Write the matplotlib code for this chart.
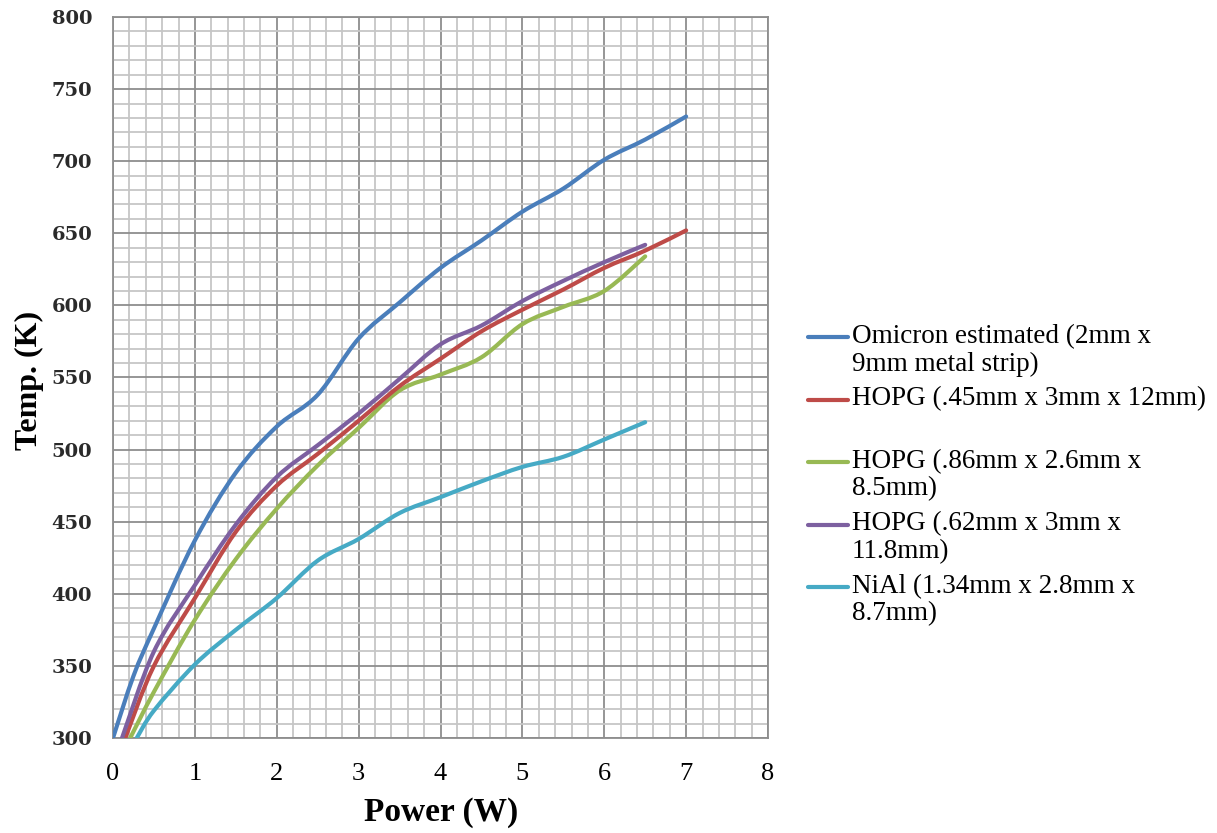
import matplotlib
matplotlib.use("Agg")
import matplotlib.pyplot as plt
from matplotlib.lines import Line2D
from matplotlib.path import Path
from matplotlib.patches import PathPatch
from matplotlib.ticker import MultipleLocator

# ---- data ----
omicron_x = [0, 0.25, 0.5, 1, 1.5, 2, 2.5, 3, 3.5, 4, 4.5, 5, 5.5, 6, 6.5, 7]
omicron_y = [300, 343, 376, 437, 484, 516, 538, 577, 602, 626, 645, 665, 681, 701, 715, 731]

hopg45_x = [0.15, 0.5, 1, 1.5, 2, 2.5, 3, 3.5, 4, 4.5, 5, 5.5, 6, 6.5, 7]
hopg45_y = [300, 350, 397, 443, 475, 497, 520, 544, 563, 582, 597, 611, 626, 638, 652]

hopg86_x = [0.21, 0.5, 1, 1.5, 2, 2.5, 3, 3.5, 4, 4.5, 5, 5.5, 6, 6.5]
hopg86_y = [300, 332, 382, 424, 459, 489, 515, 541, 552, 564, 587, 599, 610, 634]

hopg62_x = [0.11, 0.5, 1, 1.5, 2, 2.5, 3, 3.5, 4, 4.5, 5, 5.5, 6, 6.5]
hopg62_y = [300, 360, 406, 448, 481, 503, 525, 549, 573, 586, 603, 617, 630, 642]

nial_x = [0.29, 0.5, 1, 1.5, 2, 2.5, 3, 3.5, 4, 4.5, 5, 5.5, 6, 6.5]
nial_y = [300, 319, 351, 375, 397, 423, 438, 456, 467, 478, 488, 495, 507, 519]

labels = [
    "Omicron estimated (2mm x\n9mm metal strip)",
    "HOPG (.45mm x 3mm x 12mm)\n",
    "HOPG (.86mm x 2.6mm x\n8.5mm)",
    "HOPG (.62mm x 3mm x\n11.8mm)",
    "NiAl (1.34mm x 2.8mm x\n8.7mm)",
]
colors = ["#4A7EBB", "#BE4B48", "#98B954", "#7D60A0", "#46AAC5"]
series = [(omicron_x, omicron_y), (hopg45_x, hopg45_y), (hopg86_x, hopg86_y),
          (hopg62_x, hopg62_y), (nial_x, nial_y)]
order = [0, 2, 1, 3, 4]


def smooth_path(xs, ys):
    """Spreadsheet-style smoothed line: cubic Bezier segments through the data points."""
    pts = list(zip(xs, ys))
    n = len(pts)
    verts = [pts[0]]
    codes = [Path.MOVETO]
    for i in range(n - 1):
        p0 = pts[i - 1] if i > 0 else pts[i]
        p1 = pts[i]
        p2 = pts[i + 1]
        p3 = pts[i + 2] if i + 2 < n else pts[i + 1]
        c1 = (p1[0] + (p2[0] - p0[0]) / 6, p1[1] + (p2[1] - p0[1]) / 6)
        c2 = (p2[0] - (p3[0] - p1[0]) / 6, p2[1] - (p3[1] - p1[1]) / 6)
        verts += [c1, c2, p2]
        codes += [Path.CURVE4] * 3
    return Path(verts, codes)


W, H = 1217, 833
fig = plt.figure(figsize=(W / 100, H / 100), dpi=100)
ax = fig.add_axes([113 / W, 1 - 738 / H, (768 - 113) / W, (738 - 17) / H])

for i in order:
    xs, ys = series[i]
    patch = PathPatch(smooth_path(xs, ys), facecolor="none", edgecolor=colors[i],
                      lw=3.0, joinstyle="round", capstyle="round", zorder=3)
    ax.add_patch(patch)

ax.set_xlim(0, 8)
ax.set_ylim(300, 800)
ax.xaxis.set_major_locator(MultipleLocator(1))
ax.xaxis.set_minor_locator(MultipleLocator(0.2))
ax.yaxis.set_major_locator(MultipleLocator(50))
ax.yaxis.set_minor_locator(MultipleLocator(10))
ax.grid(which="minor", color="#C6C6C6", lw=1.3, zorder=0)
ax.grid(which="major", color="#8E8E8E", lw=1.3, zorder=1)
ax.set_axisbelow(True)
for s in ax.spines.values():
    s.set_color("#8E8E8E")
    s.set_linewidth(1.3)

ax.tick_params(which="both", length=0)
ax.tick_params(axis="x", pad=18, labelsize=19)
ax.tick_params(axis="y", pad=15, labelsize=14)
for t in ax.get_xticklabels():
    t.set_fontfamily("Liberation Serif")
for t in ax.get_yticklabels():
    t.set_fontfamily("DejaVu Serif")
    t.set_fontweight("bold")
    t.set_color("#2a2a2a")

fig.text(441 / W, 1 - 812 / H, "Power (W)", ha="center", va="center",
         fontfamily="Liberation Serif", fontweight="bold", fontsize=24)
fig.text(29 / W, 1 - 380 / H, "Temp. (K)", ha="center", va="center", rotation=90,
         fontfamily="Liberation Serif", fontweight="bold", fontsize=23)

# legend (manual, handle aligned with first text line)
leg_y0 = 337
leg_step = 62.5
for k in range(5):
    yk = 1 - (leg_y0 + k * leg_step) / H
    fig.add_artist(Line2D([808 / W, 848 / W], [yk, yk], color=colors[k], lw=3.0,
                          solid_capstyle="round", transform=fig.transFigure))
    fig.text(852 / W, yk + 13 / H, labels[k], ha="left", va="top",
             fontfamily="Liberation Serif", fontsize=19.5, linespacing=1.13)

fig.savefig("out.png", dpi=100)
